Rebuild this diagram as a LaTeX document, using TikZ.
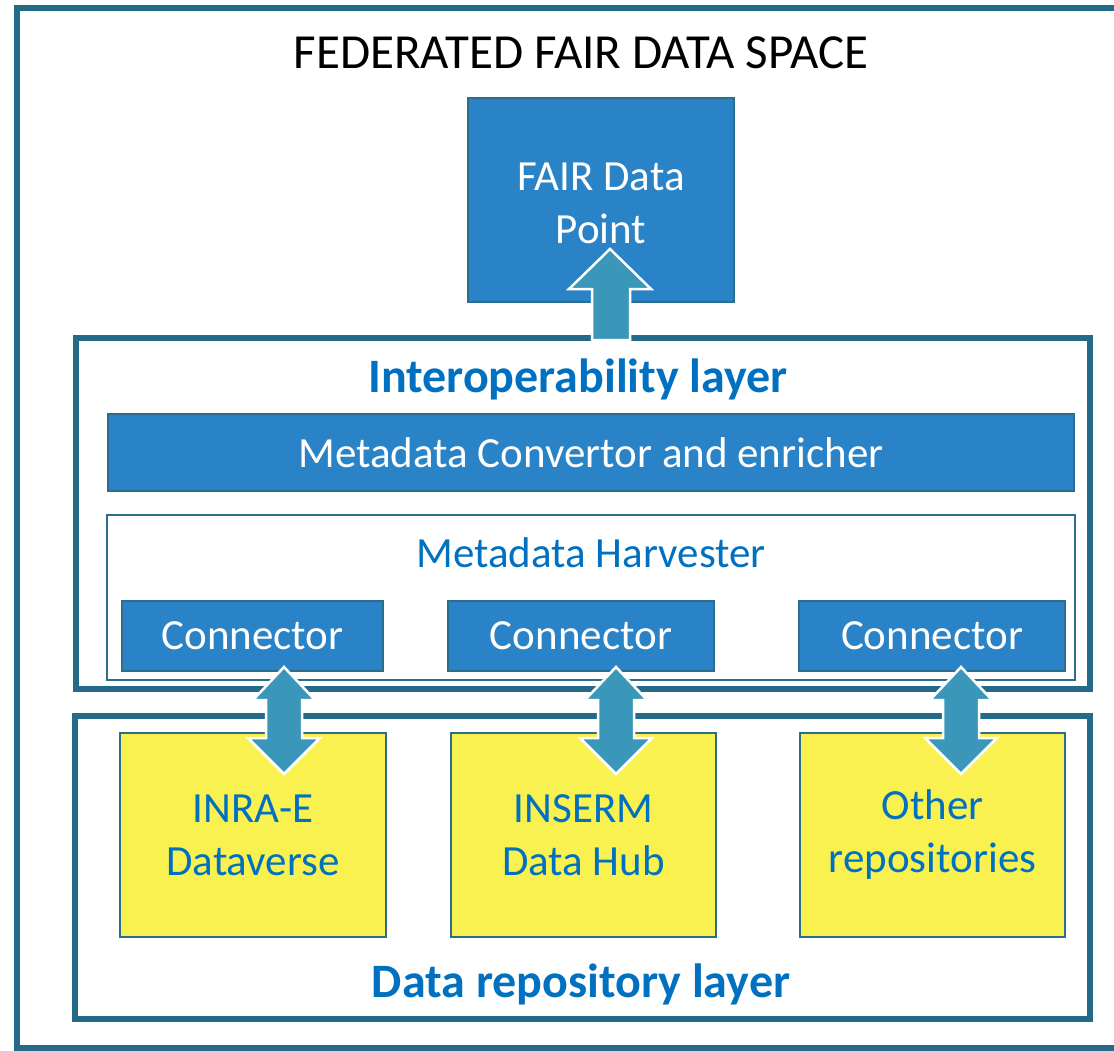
\documentclass[tikz,border=0pt]{standalone}
\usepackage{fontspec}
\setmainfont{Carlito}
\definecolor{frame}{HTML}{246B8A}
\definecolor{boxblue}{HTML}{2A83C6}
\definecolor{boxedge}{HTML}{2A6E8C}
\definecolor{txtblue}{HTML}{0070C0}
\definecolor{ylw}{HTML}{F9F150}
\definecolor{arrowc}{HTML}{3A97B9}
\tikzset{
  layer/.style={draw=frame, line width=6pt, fill=none},
  bluebox/.style={draw=boxedge, line width=2pt, fill=boxblue, text=white, inner sep=0pt, align=center},
  ylwbox/.style={draw=boxedge, line width=2pt, fill=ylw, text=txtblue, inner sep=0pt, align=center},
  harv/.style={draw=boxedge, line width=1.5pt, fill=white, inner sep=0pt},
  blockarrow/.style={fill=arrowc, draw=white, line width=2.5pt, line join=miter},
  layertext/.style={text=txtblue, font=\fontsize{48}{56}\selectfont\bfseries},
  bodyfont/.style={font=\fontsize{43}{53}\selectfont},
}
\begin{document}
\begin{tikzpicture}[x=1pt,y=-1pt]
\useasboundingbox (0,0) rectangle (1114,1051);
\clip (0,0) rectangle (1114,1051);
\fill[white] (0,0) rectangle (1114,1051);
% outer frame
\draw[layer] (17,8) rectangle (1130,1048);
\node[font=\fontsize{49}{56}\selectfont] (title) at (581,53) {FEDERATED FAIR DATA SPACE};
% FAIR data point
\node[bluebox, minimum width=266pt, minimum height=204pt] (fdp) at (601,200) {};
\node[text=white, align=center, bodyfont] (fdptext) at (601,203) {FAIR Data\\Point};
% interoperability layer
\draw[layer] (76,338) rectangle (1090,689);
\node[layertext] (iopl) at (578,379) {Interoperability layer};
\node[bluebox, minimum width=966pt, minimum height=77pt, bodyfont] (conv) at (591,452.5) {Metadata Convertor and enricher};
\node[harv, minimum width=968pt, minimum height=165pt] (harvester) at (591,597.5) {};
\node[text=txtblue, bodyfont] (harvtext) at (591,553) {Metadata Harvester};
\node[bluebox, minimum width=261pt, minimum height=70pt, bodyfont] (c1) at (252.5,636) {Connector};
\node[bluebox, minimum width=266pt, minimum height=70pt, bodyfont] (c2) at (581,636) {Connector};
\node[bluebox, minimum width=266pt, minimum height=70pt, bodyfont] (c3) at (932,636) {Connector};
% data repository layer
\draw[layer] (75,716) rectangle (1090,1019);
\node[layertext] (drl) at (581,984) {Data repository layer};
\node[ylwbox, minimum width=266pt, minimum height=204pt, bodyfont] (r1) at (253,835) {INRA-E\\Dataverse};
\node[ylwbox, minimum width=265pt, minimum height=204pt, bodyfont] (r2) at (583.5,835) {INSERM\\Data Hub};
\node[ylwbox, minimum width=265pt, minimum height=204pt, bodyfont] (r3) at (932.5,835) {Other\\repositories};
% up arrow
\draw[blockarrow] (592,340) -- (592,289) -- (569,289) -- (610,249) -- (651,289) -- (630,289) -- (630,340) -- cycle;
% double arrows
\foreach \cx/\nm in {284/c1, 616/c2, 961/c3}{
  \draw[blockarrow] (\cx,667) -- (\cx+31,700) -- (\cx+18,700) -- (\cx+18,738) -- (\cx+36,738) -- (\cx,774)
    -- (\cx-36,738) -- (\cx-18,738) -- (\cx-18,700) -- (\cx-31,700) -- cycle;
}
\end{tikzpicture}
\end{document}
